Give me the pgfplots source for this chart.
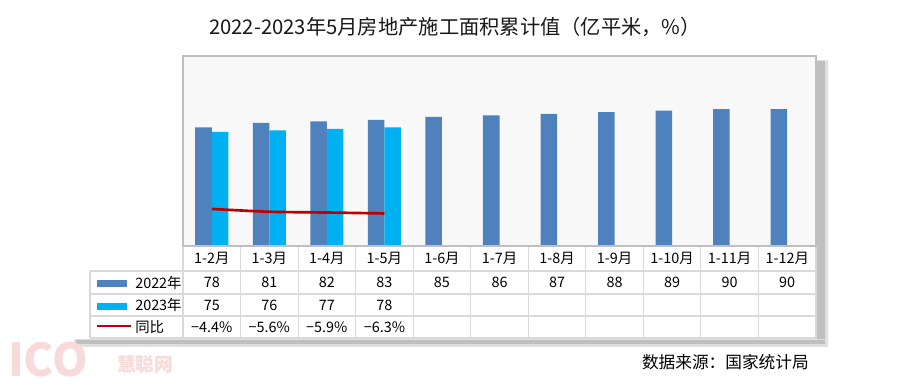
\documentclass[border=0pt]{standalone}
\usepackage{fontspec}
\setmainfont{Noto Sans CJK SC}
\usepackage{pgfplots}
\usepackage{pgfplotstable}
\pgfplotsset{compat=1.18}
\definecolor{c22}{HTML}{4F81BD}
\definecolor{c23}{HTML}{00B0F0}
\definecolor{cyoy}{HTML}{C00000}
\definecolor{gridc}{HTML}{D9D9D9}
\definecolor{framec}{HTML}{BFBFBF}
\definecolor{bgc}{HTML}{F8F8F8}
\definecolor{wm}{HTML}{F9DADA}

\pgfplotstableread{
x v
0 78
1 81
2 82
3 83
4 85
5 86
6 87
7 88
8 89
9 90
10 90
}\ttwo
\pgfplotstableread{
x v
0 75
1 76
2 77
3 78
}\tthree
\pgfplotstableread{
x v
0 -4.4
1 -5.6
2 -5.9
3 -6.3
}\tyoy

\begin{document}
\begin{tikzpicture}
\begin{scope}[x=0.75pt,y=0.75pt]
\useasboundingbox (0,0) rectangle (900,390);
\fill[white] (0,0) rectangle (900,390);
% shadows
\fill[black!12] (816,390-60) rectangle (828,390-346);
\fill[black!25] (817,390-61) rectangle (825,390-344);
\fill[black!12] (74,390-339) rectangle (828,390-347);
\fill[black!25] (76,390-340) rectangle (825,390-344);
% table background
\fill[white] (90,390-271) rectangle (816,390-338.5);
\fill[white] (183,390-246) rectangle (816,390-271);
% plot area
\fill[bgc] (183,390-56) rectangle (816,390-246);
% watermark
\node[wm, font=\fontsize{34}{34}\selectfont\bfseries, inner sep=0pt] at (48,390-360) {ICO};
\node[wm, font=\fontsize{14}{14}\selectfont\bfseries, inner sep=0pt] at (145,390-364) {慧聪网};
% table grid
\foreach \yy in {271,294,316,338} \draw[gridc, line width=0.8pt] (90,390-\yy) -- (816,390-\yy);
\draw[gridc, line width=0.8pt] (90,390-271) -- (90,390-338);
\foreach \k in {0,...,11} \draw[gridc, line width=0.8pt] ({183+\k*57.545},390-246) -- ({183+\k*57.545},390-338);
\end{scope}

\begin{axis}[
  at={(137.25pt,108pt)}, anchor=south west,
  scale only axis, width=474.75pt, height=142.5pt,
  xmin=-0.5, xmax=10.5, ymin=0, ymax=125,
  axis lines=none, ticks=none,
  ybar=0pt, bar width=12.4pt,
]
\addplot[fill=c22, draw=none] table[x=x,y=v] {\ttwo};
\addplot[fill=c23, draw=none] table[x=x,y=v] {\tthree};
\end{axis}
\begin{axis}[
  at={(137.25pt,108pt)}, anchor=south west,
  scale only axis, width=474.75pt, height=142.5pt,
  xmin=-0.5, xmax=10.5, ymin=-20, ymax=60,
  axis lines=none, ticks=none,
]
\addplot[cyoy, line width=2pt, smooth, tension=0.3] table[x=x,y=v] {\tyoy};
\end{axis}

\begin{scope}[x=0.75pt,y=0.75pt]
\draw[framec, line width=1.1pt] (183,390-56) rectangle (816,390-246);
\node[text=black!90, font=\fontsize{15.2}{18}\selectfont] at (455,390-27) {2022-2023年5月房地产施工面积累计值（亿平米，\%）};
\begin{scope}[font=\fontsize{10.8}{13}\selectfont]
\foreach \lab [count=\i from 0] in {1-2月,1-3月,1-4月,1-5月,1-6月,1-7月,1-8月,1-9月,1-10月,1-11月,1-12月}
  \node at ({183+(\i+0.5)*57.545},390-258.5) {\lab};
\foreach \lab [count=\i from 0] in {78,81,82,83,85,86,87,88,89,90,90}
  \node at ({183+(\i+0.5)*57.545},390-282.5) {\lab};
\foreach \lab [count=\i from 0] in {75,76,77,78}
  \node at ({183+(\i+0.5)*57.545},390-305) {\lab};
\foreach \lab [count=\i from 0] in {−4.4\%,−5.6\%,−5.9\%,−6.3\%}
  \node at ({183+(\i+0.5)*57.545},390-327) {\lab};
\fill[c22] (97,390-280) rectangle (127,390-287);
\fill[c23] (97,390-303) rectangle (127,390-310);
\draw[cyoy, line width=2pt] (97,390-326) -- (131,390-326);
\node[anchor=west, inner sep=0pt] at (135,390-282.5) {2022年};
\node[anchor=west, inner sep=0pt] at (135,390-305) {2023年};
\node[anchor=west, inner sep=0pt] at (135,390-327) {同比};
\end{scope}
\node[font=\fontsize{12.5}{15}\selectfont, anchor=east, inner sep=0pt] at (809,390-362) {数据来源：国家统计局};
\end{scope}
\end{tikzpicture}
\end{document}
